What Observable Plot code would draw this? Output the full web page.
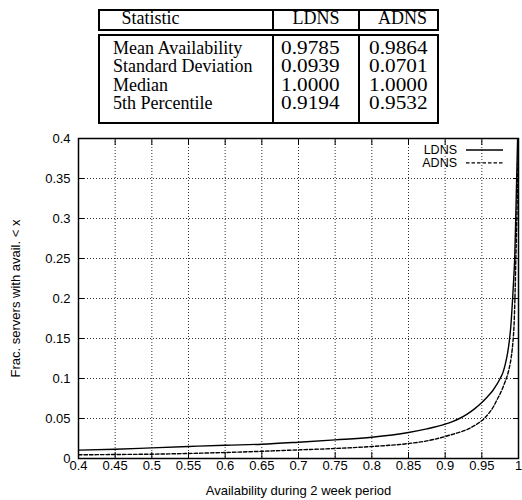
<!DOCTYPE html>
<html>
<head>
<meta charset="utf-8">
<script src="https://cdn.jsdelivr.net/npm/d3@7"></script>
<script src="https://cdn.jsdelivr.net/npm/@observablehq/plot@0.6"></script>
<style>
  html, body { margin: 0; padding: 0; background: #fff; overflow: hidden; }
  #page { position: relative; width: 522px; height: 500px; }
  .box { position: absolute; border: 2px solid #000; box-sizing: border-box; }
  .vline { position: absolute; width: 2px; background: #000; }
  .cell { position: absolute; font-family: "Liberation Serif", "Times New Roman", Times, serif; font-size: 18px; line-height: 18.3px; white-space: nowrap; color: #000; }
  .num { transform: scaleX(1.18); transform-origin: right center; }
  #chart { position: absolute; left: 0; top: 128px; }
</style>
</head>
<body>
<div id="page">
  <div id="table"></div>
  <div id="chart"></div>
</div>
<script>
// ---- table data ----
const tableHeaders = ["Statistic", "LDNS", "ADNS"];
const statNames = ["Mean Availability", "Standard Deviation", "Median", "5th Percentile"];
const ldnsStats = ["0.9785", "0.0939", "1.0000", "0.9194"];
const adnsStats = ["0.9864", "0.0701", "1.0000", "0.9532"];

// ---- chart data ----
const ldnsX = [0.40, 0.45, 0.50, 0.55, 0.60, 0.65, 0.70, 0.75, 0.80, 0.85, 0.875, 0.90, 0.91, 0.9194, 0.93, 0.94, 0.95, 0.958, 0.965, 0.970, 0.975, 0.979, 0.982, 0.985, 0.9875, 0.9895, 0.991, 0.992, 0.9935, 0.9948, 0.9962, 0.9975, 0.9988];
const ldnsY = [0.0104, 0.0116, 0.0133, 0.0150, 0.0166, 0.0179, 0.0204, 0.0233, 0.0266, 0.0325, 0.0370, 0.0429, 0.0462, 0.0500, 0.0555, 0.0620, 0.0700, 0.0775, 0.0850, 0.0920, 0.1000, 0.1080, 0.1180, 0.1310, 0.1470, 0.1650, 0.1850, 0.2000, 0.2250, 0.2500, 0.3000, 0.3500, 0.4000];
const adnsX = [0.40, 0.45, 0.50, 0.55, 0.60, 0.65, 0.70, 0.75, 0.80, 0.85, 0.875, 0.90, 0.91, 0.925, 0.935, 0.945, 0.9532, 0.96, 0.966, 0.971, 0.975, 0.979, 0.982, 0.985, 0.9875, 0.990, 0.9915, 0.9928, 0.994, 0.995, 0.9964, 0.9977, 0.9988, 0.9996];
const adnsY = [0.0046, 0.0050, 0.0054, 0.0063, 0.0075, 0.0090, 0.0108, 0.0125, 0.0150, 0.0187, 0.0220, 0.0275, 0.0302, 0.0345, 0.0385, 0.0440, 0.0500, 0.0570, 0.0650, 0.0740, 0.0810, 0.0895, 0.0965, 0.1045, 0.1135, 0.1260, 0.1370, 0.1500, 0.1680, 0.1950, 0.2500, 0.3000, 0.3500, 0.4000];
const seriesNames = ["LDNS", "ADNS"];
const xTicks = [0.4, 0.45, 0.5, 0.55, 0.6, 0.65, 0.7, 0.75, 0.8, 0.85, 0.9, 0.95, 1];
const yTicks = [0, 0.05, 0.1, 0.15, 0.2, 0.25, 0.3, 0.35, 0.4];
const xLabel = "Availability during 2 week period";
const yLabel = "Frac. servers with avail. < x";

// ---- table ----
(function buildTable() {
  const t = document.getElementById("table");
  const L = 98, R = 439, div1 = 271.7, div2 = 358.3;
  function box(top, h) {
    const b = document.createElement("div");
    b.className = "box";
    Object.assign(b.style, {left: L + "px", top: top + "px", width: (R - L) + "px", height: h + "px"});
    t.appendChild(b);
    [div1, div2].forEach(x => {
      const v = document.createElement("div");
      v.className = "vline";
      Object.assign(v.style, {left: x + "px", top: top + "px", height: h + "px"});
      t.appendChild(v);
    });
  }
  function cell(text, baseline, opts) {
    const c = document.createElement("div");
    c.className = "cell" + (opts.num ? " num" : "");
    c.textContent = text;
    c.style.top = (baseline - 15.2) + "px";
    if (opts.left != null) c.style.left = opts.left + "px";
    if (opts.right != null) { c.style.right = (522 - opts.right) + "px"; c.style.textAlign = "right"; }
    t.appendChild(c);
  }
  box(9, 22);
  box(34, 90);
  cell(tableHeaders[0], 24, {left: 121.5});
  cell(tableHeaders[1], 24, {right: 339.5});
  cell(tableHeaders[2], 24, {right: 427});
  const baselines = [54.3, 72.6, 90.9, 109.2];
  statNames.forEach((s, i) => {
    cell(s, baselines[i], {left: 113});
    cell(ldnsStats[i], baselines[i], {right: 339.5, num: true});
    cell(adnsStats[i], baselines[i], {right: 427, num: true});
  });
})();

// ---- chart ----
const rows = [];
ldnsX.forEach((x, i) => rows.push({series: seriesNames[0], x, y: ldnsY[i]}));
adnsX.forEach((x, i) => rows.push({series: seriesNames[1], x, y: adnsY[i]}));
const dashes = {LDNS: null, ADNS: "3.5,2"};
const fmt = d => String(+d.toFixed(2));
const FONT = "'Liberation Sans', Arial, Helvetica, sans-serif";

function legendMark(index, scales, values, dims) {
  const {width, marginRight, marginTop} = dims;
  const right = width - marginRight;
  const g = d3.create("svg:g")
    .attr("font-family", FONT)
    .attr("font-size", 12.5);
  seriesNames.forEach((name, i) => {
    const y = marginTop + 12 + i * 12.9;
    g.append("text").attr("x", right - 61).attr("y", y).attr("dy", "0.35em")
      .attr("text-anchor", "end").attr("fill", "#000").text(name);
    g.append("line").attr("x1", right - 52).attr("x2", right - 15).attr("y1", y).attr("y2", y)
      .attr("stroke", "#000").attr("stroke-width", 1.3)
      .attr("stroke-dasharray", dashes[name]);
  });
  return g.node();
}

const chart = Plot.plot({
  width: 522,
  height: 372,
  marginTop: 10,
  marginBottom: 42,
  marginLeft: 78,
  marginRight: 4,
  style: {fontFamily: FONT, fontSize: "13px", color: "#000", background: "#fff"},
  x: {domain: [0.4, 1]},
  y: {domain: [0, 0.4]},
  marks: [
    Plot.gridX(xTicks, {stroke: "#000", strokeOpacity: 0.8, strokeDasharray: "1,2"}),
    Plot.gridY(yTicks, {stroke: "#000", strokeOpacity: 0.8, strokeDasharray: "1,2"}),
    Plot.axisX(xTicks, {anchor: "bottom", tickSize: 0, tickPadding: 2, tickFormat: fmt, label: null, fontSize: 13, fill: "#000"}),
    Plot.axisY(yTicks, {anchor: "left", tickSize: 0, tickPadding: 8, tickFormat: fmt, label: null, fontSize: 13, fill: "#000"}),
    Plot.axisX(xTicks, {anchor: "bottom", tickSize: 6, dy: -6, tickFormat: () => "", label: null}),
    Plot.axisX(xTicks, {anchor: "top", tickSize: 6, dy: 6, tickFormat: () => "", label: null}),
    Plot.axisY(yTicks, {anchor: "left", tickSize: 6, dx: 6, tickFormat: () => "", label: null}),
    Plot.axisY(yTicks, {anchor: "right", tickSize: 6, dx: -6, tickFormat: () => "", label: null}),
    Plot.line(rows.filter(d => d.series === "LDNS"), {x: "x", y: "y", stroke: "#000", strokeWidth: 1.4, curve: "monotone-x", clip: true}),
    Plot.line(rows.filter(d => d.series === "ADNS"), {x: "x", y: "y", stroke: "#000", strokeWidth: 1.4, strokeDasharray: "3.5,2", curve: "monotone-x", clip: true}),
    Plot.frame({stroke: "#000", strokeWidth: 1.5}),
    Plot.text([xLabel], {text: d => d, frameAnchor: "bottom", textAnchor: "middle", lineAnchor: "middle", dy: 32, fill: "#000", fontSize: 13}),
    Plot.text([yLabel], {text: d => d, frameAnchor: "left", textAnchor: "middle", lineAnchor: "middle", rotate: -90, dx: -63, fill: "#000", fontSize: 13}),
    legendMark
  ]
});
document.getElementById("chart").appendChild(chart);
</script>
</body>
</html>
